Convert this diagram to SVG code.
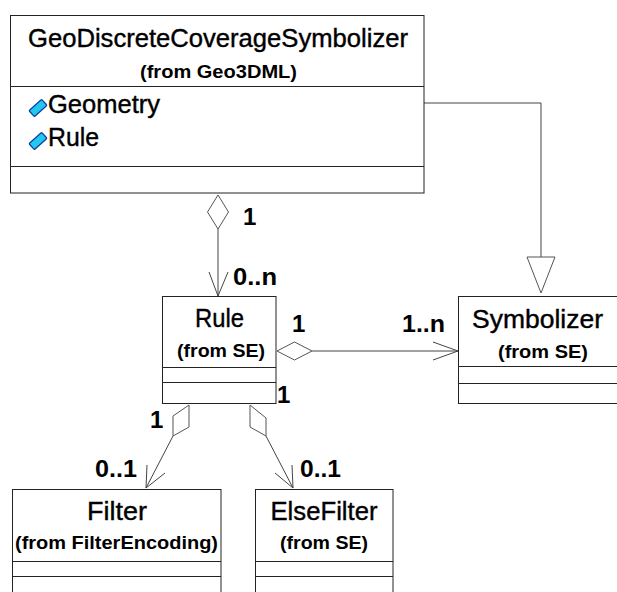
<svg xmlns="http://www.w3.org/2000/svg" width="617" height="592" viewBox="0 0 617 592">
<defs>
<style>
.box{fill:#fff;stroke:#222;stroke-width:1}
.sep{stroke:#222;stroke-width:1}
.name{font-family:"Liberation Sans",Arial,sans-serif;font-size:26px;fill:#000;stroke:#000;stroke-width:0.4;text-anchor:middle}
.from{font-family:"Liberation Sans",Arial,sans-serif;font-size:19px;font-weight:bold;fill:#000;text-anchor:middle}
.attr{font-family:"Liberation Sans",Arial,sans-serif;font-size:25px;fill:#000;stroke:#000;stroke-width:0.4}
.lbl{font-family:"Liberation Sans",Arial,sans-serif;font-size:24px;font-weight:bold;fill:#000}
.conn{fill:none;stroke:#444;stroke-width:1}
.dia{fill:#fff;stroke:#555;stroke-width:1}
.icon{fill:#22c8f0;stroke:#1040a0;stroke-width:1.3}
</style>
</defs>
<rect width="617" height="592" fill="#fff"/>

<g id="connectors">
  <polyline class="conn" points="424,103 541,103 541,257"/>
  <polygon class="dia" points="527,257 555,257 541,293"/>
  <line class="conn" x1="218" y1="229" x2="218" y2="296"/>
  <polygon class="dia" points="218,195 228.5,212 218,229 207.5,212"/>
  <polyline class="conn" points="209,272 218,296 228,272"/>
  <line class="conn" x1="312" y1="351" x2="458" y2="351"/>
  <polygon class="dia" points="277,351 294.5,342 312,351 294.5,360"/>
  <polyline class="conn" points="433,342 458,351 433,360"/>
  <line class="conn" x1="173" y1="436" x2="146" y2="488"/>
  <polygon class="dia" points="189,405 189,427 173,436 173,416"/>
  <polyline class="conn" points="147,465 146,488 165,473"/>
  <line class="conn" x1="266" y1="436" x2="293" y2="488"/>
  <polygon class="dia" points="250,405 266,418 266,436 250,427"/>
  <polyline class="conn" points="275,473 293,488 292,465"/>
  <text class="lbl" x="243" y="225">1</text>
  <text class="lbl" x="233" y="285" textLength="44" lengthAdjust="spacingAndGlyphs">0..n</text>
  <text class="lbl" x="292" y="332">1</text>
  <text class="lbl" x="402" y="332" textLength="43" lengthAdjust="spacingAndGlyphs">1..n</text>
  <text class="lbl" x="277" y="403">1</text>
  <text class="lbl" x="150" y="428">1</text>
  <text class="lbl" x="95" y="477" textLength="42" lengthAdjust="spacingAndGlyphs">0..1</text>
  <text class="lbl" x="300" y="477" textLength="41" lengthAdjust="spacingAndGlyphs">0..1</text>
</g>

<g id="GeoDiscreteCoverageSymbolizer">
  <rect class="box" x="10.5" y="15.5" width="413.5" height="177.5"/>
  <line class="sep" x1="10.5" y1="86.5" x2="424" y2="86.5"/>
  <line class="sep" x1="10.5" y1="166.5" x2="424" y2="166.5"/>
  <text class="name" x="218" y="47" textLength="380" lengthAdjust="spacingAndGlyphs">GeoDiscreteCoverageSymbolizer</text>
  <text class="from" x="218.5" y="78" textLength="157" lengthAdjust="spacingAndGlyphs">(from Geo3DML)</text>
  <g transform="translate(38,108) rotate(-42)"><rect class="icon" x="-8.5" y="-4" width="17" height="8" rx="1"/></g>
  <text class="attr" x="48" y="113" textLength="112" lengthAdjust="spacingAndGlyphs">Geometry</text>
  <g transform="translate(38,141) rotate(-42)"><rect class="icon" x="-8.5" y="-4" width="17" height="8" rx="1"/></g>
  <text class="attr" x="48" y="146" textLength="51" lengthAdjust="spacingAndGlyphs">Rule</text>
</g>

<g id="Rule">
  <rect class="box" x="162.5" y="296.5" width="113.5" height="107"/>
  <line class="sep" x1="162.5" y1="367.5" x2="276" y2="367.5"/>
  <line class="sep" x1="162.5" y1="382.5" x2="276" y2="382.5"/>
  <text class="name" x="219.5" y="327" textLength="49" lengthAdjust="spacingAndGlyphs">Rule</text>
  <text class="from" x="221" y="357" textLength="88" lengthAdjust="spacingAndGlyphs">(from SE)</text>
</g>

<g id="Symbolizer">
  <rect class="box" x="458.5" y="296.5" width="160" height="107"/>
  <line class="sep" x1="458.5" y1="366.5" x2="618" y2="366.5"/>
  <line class="sep" x1="458.5" y1="383.5" x2="618" y2="383.5"/>
  <text class="name" x="537.5" y="328" textLength="131" lengthAdjust="spacingAndGlyphs">Symbolizer</text>
  <text class="from" x="543" y="358" textLength="90" lengthAdjust="spacingAndGlyphs">(from SE)</text>
</g>

<g id="Filter">
  <rect class="box" x="12.5" y="489.5" width="208.5" height="120"/>
  <line class="sep" x1="12.5" y1="561.5" x2="221" y2="561.5"/>
  <line class="sep" x1="12.5" y1="576.5" x2="221" y2="576.5"/>
  <text class="name" x="117" y="520" textLength="60" lengthAdjust="spacingAndGlyphs">Filter</text>
  <text class="from" x="116.5" y="549" textLength="203" lengthAdjust="spacingAndGlyphs">(from FilterEncoding)</text>
</g>

<g id="ElseFilter">
  <rect class="box" x="255.5" y="489.5" width="137.5" height="120"/>
  <line class="sep" x1="255.5" y1="561.5" x2="393" y2="561.5"/>
  <line class="sep" x1="255.5" y1="576.5" x2="393" y2="576.5"/>
  <text class="name" x="324" y="520" textLength="107" lengthAdjust="spacingAndGlyphs">ElseFilter</text>
  <text class="from" x="324" y="549" textLength="88" lengthAdjust="spacingAndGlyphs">(from SE)</text>
</g>
</svg>
